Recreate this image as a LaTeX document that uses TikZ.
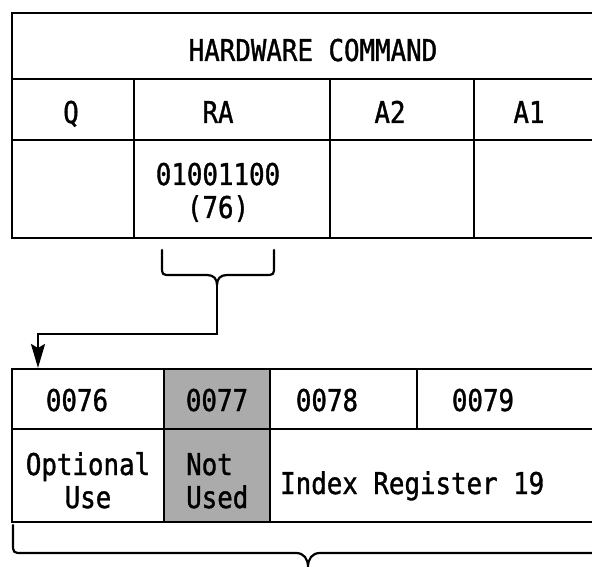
\documentclass[tikz,border=0pt]{standalone}
\usepackage{fontspec}
\newfontfamily\lgf[FakeStretch=0.86,FakeBold=1.2]{DejaVu Sans Mono}
\usetikzlibrary{arrows.meta}
\begin{document}
\begin{tikzpicture}[x=1pt,y=-1pt,
  cell/.style={draw,line width=2.4pt,inner sep=0pt,anchor=north west},
  shaded/.style={cell,fill=black!33},
  lbl/.style={font=\lgf\fontsize{30}{33}\selectfont,inner sep=0pt,anchor=base},
  lbll/.style={lbl,anchor=base west},
  brace/.style={line width=2.2pt,line cap=round,line join=round},
  conn/.style={line width=2.4pt,-{Stealth[length=24pt,width=14pt,inset=4pt]}}]
\useasboundingbox (0,0) rectangle (592,567);
\clip (0,0) rectangle (592,567);
% top table
\node[cell,minimum width=610pt,minimum height=66pt] (hw) at (11,12) {};
\node[cell,minimum width=122pt,minimum height=61pt] (q) at (11,78) {};
\node[cell,minimum width=196pt,minimum height=61pt] (ra) at (133,78) {};
\node[cell,minimum width=144pt,minimum height=61pt] (a2) at (329,78) {};
\node[cell,minimum width=150pt,minimum height=61pt] (a1) at (473,78) {};
\node[cell,minimum width=122pt,minimum height=98pt] (qv) at (11,139) {};
\node[cell,minimum width=196pt,minimum height=98pt] (rav) at (133,139) {};
\node[cell,minimum width=144pt,minimum height=98pt] (a2v) at (329,139) {};
\node[cell,minimum width=150pt,minimum height=98pt] (a1v) at (473,139) {};
\node[lbl] (thw) at (313,61) {HARDWARE COMMAND};
\node[lbl] (tq) at (71,123) {Q};
\node[lbl] (tra) at (218,123) {RA};
\node[lbl] (ta2) at (390,123) {A2};
\node[lbl] (ta1) at (529,123) {A1};
\node[lbl] (trav) at (218,218) {\begin{tabular}[b]{@{}c@{}}01001100\\(76)\end{tabular}};
% top brace
\draw[brace] (162,250) -- (162,266) .. controls (162,275) and (162,275) .. (171,275)
  -- (207,275) .. controls (214,275) and (217,279) .. (217,285)
  .. controls (217,279) and (220,275) .. (227,275) -- (265,275)
  .. controls (274,275) and (274,275) .. (274,266) -- (274,250);
\coordinate (rtip) at (217,285);
% bottom table
\node[cell,minimum width=152pt,minimum height=60pt] (c76) at (11,368) {};
\node[shaded,minimum width=106pt,minimum height=60pt] (c77) at (163,368) {};
\node[cell,minimum width=147pt,minimum height=60pt] (c78) at (269,368) {};
\node[cell,minimum width=200pt,minimum height=60pt] (c79) at (416,368) {};
\node[cell,minimum width=152pt,minimum height=93pt] (opt) at (11,428) {};
\node[shaded,minimum width=106pt,minimum height=93pt] (nu) at (163,428) {};
\node[cell,minimum width=347pt,minimum height=93pt] (ix) at (269,428) {};
\node[lbl] (t76) at (77,411) {0076};
\node[lbl] (t77) at (217,411) {0077};
\node[lbl] (t78) at (327,411) {0078};
\node[lbl] (t79) at (483,411) {0079};
\node[lbl] (topt) at (88,508) {\begin{tabular}[b]{@{}c@{}}Optional\\Use\end{tabular}};
\node[lbll] (tnu) at (186,508) {\begin{tabular}[b]{@{}l@{}}Not\\Used\end{tabular}};
\node[lbll] (tix) at (280,494) {Index Register 19};
% connector
\draw[conn] (rtip) -- ++(0,49) -| ([xshift=27pt]c76.north west);
% bottom brace
\draw[brace] (13,525) -- (13,543) .. controls (13,553) and (13,553) .. (23,553)
  -- (296,553) .. controls (304,553) and (308,559) .. (308,567)
  .. controls (308,559) and (312,553) .. (320,553) -- (587,553)
  .. controls (597,553) and (597,553) .. (597,543) -- (597,525);
\end{tikzpicture}
\end{document}
